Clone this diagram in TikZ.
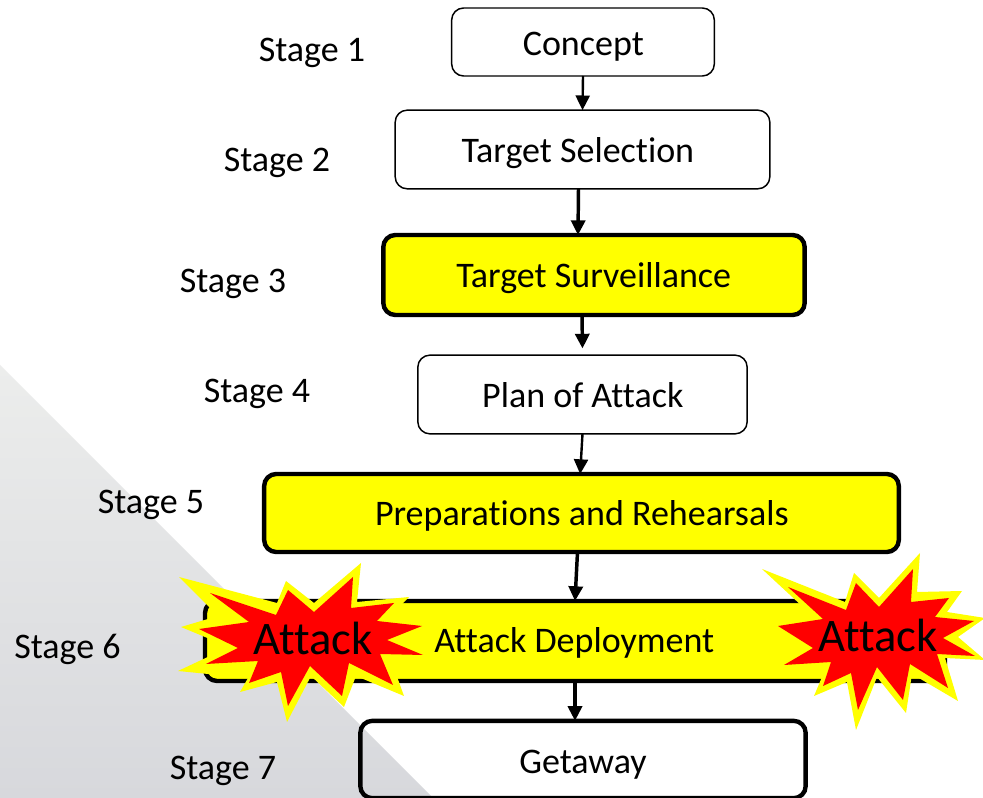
\documentclass[tikz,border=0pt]{standalone}
\usepackage{fontspec}
\setmainfont[Ligatures=NoCommon]{Carlito}
\usetikzlibrary{arrows.meta}
\definecolor{ryellow}{RGB}{255,255,0}
\definecolor{rred}{RGB}{255,0,0}
\definecolor{bgtop}{RGB}{236,237,236}
\definecolor{bgbot}{RGB}{215,216,220}
\newcommand{\nudged}[3]{\hspace*{#1}\raisebox{-#2}[0pt][0pt]{#3}}
\tikzset{
  x=0.75pt,y=-0.75pt,
  stagebox/.style={draw=black,rounded corners=9pt,outer sep=0pt,inner sep=0pt,align=center,
    font=\fontsize{27}{30}\selectfont,text=black},
  thinbox/.style={stagebox,line width=1.1pt,fill=white},
  boldbox/.style={stagebox,line width=3.3pt,fill=ryellow},
  openbox/.style={stagebox,line width=3.3pt},
  stagelabel/.style={font=\fontsize{27}{30}\selectfont,text=black,inner sep=0pt},
  flow/.style={draw=black,line width=2.6pt,-{Triangle[length=11pt,width=10.5pt]}},
  flowthin/.style={draw=black,line width=1.8pt,-{Triangle[length=11pt,width=10.5pt]}},
  burstouter/.style={fill=ryellow},
  burstinner/.style={fill=rred},
  bursttext/.style={font=\fontsize{35}{40}\selectfont,text=black,inner sep=0pt},
}
\begin{document}
\begin{tikzpicture}
\useasboundingbox (0,0) rectangle (983,798);
\fill[white] (0,0) rectangle (983,798);
\shade[top color=bgtop,bottom color=bgbot] (0,365) -- (433,798) -- (0,798) -- cycle;

\node[thinbox,minimum width=197pt,minimum height=51pt] (concept) at (583,42) {\nudged{0.5pt}{10.2pt}{Concept}};
\node[thinbox,minimum width=281pt,minimum height=59pt] (select) at (582.5,149.5) {\nudged{-7pt}{9.6pt}{Target Selection}};
\node[boldbox,minimum width=316pt,minimum height=60pt] (surv) at (594,275) {\nudged{-0.5pt}{9.4pt}{Target Surveillance}};
\node[thinbox,minimum width=247pt,minimum height=59pt] (plan) at (582.5,394.5) {\nudged{0.5pt}{9.8pt}{Plan of Attack}};
\node[boldbox,minimum width=476pt,minimum height=58.5pt] (prep) at (581.5,513) {\nudged{0.5pt}{9.6pt}{Preparations and Rehearsals}};
\node[boldbox,minimum width=555pt,minimum height=60pt] (deploy) at (575,641) {\nudged{-1pt}{8.8pt}{Attack Deployment}};
\node[openbox,minimum width=334pt,minimum height=58pt] (getaway) at (583,759.5) {\nudged{0pt}{10.2pt}{Getaway}};

\node[stagelabel] (s1) at (312,52.5) {Stage 1};
\node[stagelabel] (s2) at (277,162.5) {Stage 2};
\node[stagelabel] (s3) at (233,283.5) {Stage 3};
\node[stagelabel] (s4) at (257,393.5) {Stage 4};
\node[stagelabel] (s5) at (151,504.5) {Stage 5};
\node[stagelabel] (s6) at (67.5,649.5) {Stage 6};
\node[stagelabel] (s7) at (223,770.5) {Stage 7};

\draw[flowthin] (concept.south) -- (select.north);
\draw[flow] ([xshift=-3pt]select.south) -- ([xshift=-12pt]surv.north);
\draw[flow] ([xshift=-9pt]surv.south) -- ([yshift=5pt]plan.north);
\draw[flowthin] (plan.south) -- ([xshift=-1pt]prep.north);
\draw[flow] ([xshift=-3pt]prep.south) -- (deploy.north);
\draw[flow] (deploy.south) -- ([xshift=-6pt]getaway.north);

% left burst
\fill[burstouter] (179,577) -- (277,603) -- (286,581) -- (314,603) -- (361,563) -- (357,602) -- (409,597) -- (389,617) -- (432,627) -- (397,640) -- (433,658) -- (391,660) -- (404,696) -- (356,676) -- (344,707) -- (311,676) -- (287,722) -- (277,682) -- (240,692) -- (248,678) -- (178,671) -- (229,647) -- (181,627) -- (218,616) -- cycle;
\fill[burstinner] (210,593) -- (276,615) -- (288,590) -- (314,612) -- (353,577) -- (351,608) -- (394,603) -- (377,621) -- (422,626) -- (387,640) -- (423,655) -- (380,654) -- (393,685) -- (349,663) -- (342,696) -- (310,666) -- (288,706) -- (281,672) -- (249,683) -- (258,661) -- (206,664) -- (238,648) -- (199,629) -- (249,622) -- cycle;
% right burst
\fill[burstouter] (762,569) -- (845,602) -- (854,573) -- (879,598) -- (920,553) -- (917,592) -- (962,591) -- (947,612) -- (985,618) -- (958,637) -- (985,660) -- (945,658) -- (958,701) -- (912,674) -- (906,713) -- (877,677) -- (856,730) -- (847,682) -- (814,696) -- (822,677) -- (775,670) -- (803,648) -- (768,625) -- (803,607) -- cycle;
\fill[burstinner] (788,587) -- (846,610) -- (856,583) -- (879,607) -- (913,569) -- (911,602) -- (949,598) -- (935,617) -- (974,621) -- (943,638) -- (975,656) -- (937,654) -- (948,688) -- (910,664) -- (903,700) -- (877,667) -- (858,710) -- (851,673) -- (823,686) -- (831,662) -- (784,665) -- (813,648) -- (778,626) -- (823,619) -- cycle;
\node[bursttext] (a1) at (313,638) {Attack};
\node[bursttext] (a2) at (878,635) {Attack};
\end{tikzpicture}
\end{document}
